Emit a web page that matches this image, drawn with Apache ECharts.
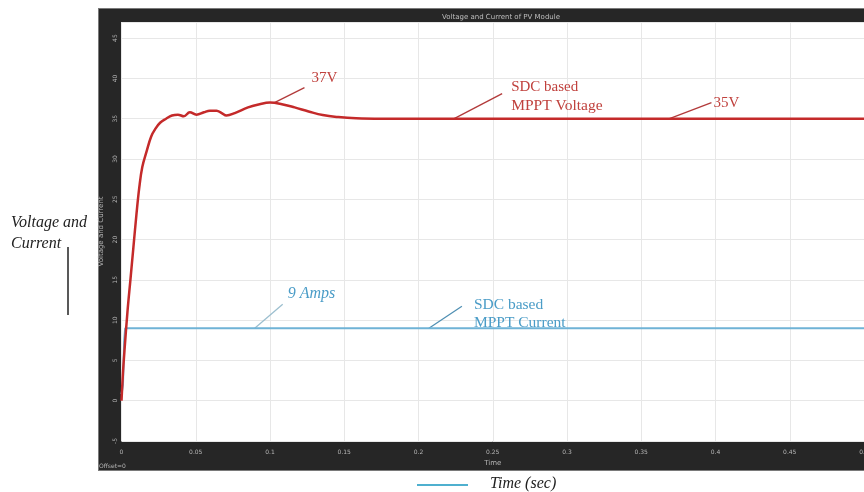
<!DOCTYPE html>
<html>
<head>
<meta charset="utf-8">
<script src="https://cdn.jsdelivr.net/npm/echarts@6/dist/echarts.min.js"></script>
<style>
  html, body { margin: 0; padding: 0; background: #ffffff; }
  #wrap { position: relative; width: 864px; height: 492px; overflow: hidden; }
  #frame { position: absolute; left: 98px; top: 8px; width: 770px; height: 463px;
           background: #262626; border: 1px solid #7a7a7a; box-sizing: border-box; }
  #chart { position: absolute; left: 0; top: 0; width: 864px; height: 492px; }
</style>
</head>
<body>
<div id="wrap">
  <div id="frame"></div>
  <div id="chart"></div>
</div>
<script>
// Scope trace: PV module voltage and current (SDC based MPPT)
const voltTime = [0, 0.001, 0.002, 0.004, 0.006, 0.008, 0.010, 0.012, 0.014, 0.017, 0.020, 0.023, 0.026, 0.030,
  0.034, 0.038, 0.042, 0.046, 0.0505, 0.0555, 0.0595, 0.064, 0.0675, 0.0707, 0.0763, 0.0852, 0.093, 0.100,
  0.108, 0.1166, 0.126, 0.1355, 0.146, 0.158, 0.175, 0.2, 0.25, 0.3, 0.35, 0.4, 0.45, 0.5];
const voltage = [0, 3.5, 6.2, 11, 15, 19, 23, 26.5, 29, 31, 32.8, 33.8, 34.5, 35.0,
  35.4, 35.5, 35.3, 35.8, 35.5, 35.8, 36.0, 36.0, 35.7, 35.4, 35.7, 36.4, 36.8, 37,
  36.8, 36.4, 35.9, 35.45, 35.2, 35.05, 35, 35, 35, 35, 35, 35, 35, 35];

const currTime = [0, 0.001, 0.0018, 0.0025, 0.01, 0.05, 0.1, 0.2, 0.3, 0.4, 0.5];
const current = [0.8, 2, 7.5, 9, 9, 9, 9, 9, 9, 9, 9];

const yTicks = [-5, 0, 5, 10, 15, 20, 25, 30, 35, 40, 45];
const xTicks = [0, 0.05, 0.1, 0.15, 0.2, 0.25, 0.3, 0.35, 0.4, 0.45, 0.5];

const pairs = (xs, ys) => xs.map((x, i) => [x, ys[i]]);

const chart = echarts.init(document.getElementById('chart'), null, { renderer: 'canvas' });

const tickText = { color: '#b5b5b5', fontSize: 6, fontFamily: 'DejaVu Sans' };

chart.setOption({
  backgroundColor: 'transparent',
  animation: false,
  title: {
    text: 'Voltage and Current of PV Module',
    left: 496, top: 9, textAlign: 'center',
    textStyle: { color: '#bdbdbd', fontSize: 7, fontWeight: 'normal', fontFamily: 'DejaVu Sans' }
  },
  grid: { left: 121.5, top: 22, right: 0, bottom: 51, show: true, backgroundColor: '#ffffff', borderWidth: 0,
          containLabel: false, outerBoundsMode: 'none' },
  xAxis: {
    type: 'value', min: 0, max: 0.5, interval: 0.05,
    name: 'Time', nameLocation: 'middle', nameGap: 19,
    nameTextStyle: { color: '#b5b5b5', fontSize: 7, fontFamily: 'DejaVu Sans' },
    axisLine: { show: false }, axisTick: { show: false },
    axisLabel: Object.assign({ margin: 8, formatter: v => xTicks.some(t => Math.abs(t - v) < 1e-9) ? String(+v.toFixed(2)) : '' }, tickText),
    splitLine: { show: true, lineStyle: { color: '#e7e7e7', width: 1 } }
  },
  yAxis: {
    type: 'value', min: -5, max: 47, interval: 5,
    name: 'Voltage and Current', nameLocation: 'middle', nameGap: 13, nameRotate: 90,
    nameTextStyle: { color: '#b5b5b5', fontSize: 7, fontFamily: 'DejaVu Sans' },
    axisLine: { show: false }, axisTick: { show: false },
    axisLabel: Object.assign({ margin: 3, rotate: 90, formatter: v => yTicks.indexOf(v) >= 0 ? String(v) : '' }, tickText),
    splitLine: { show: true, lineStyle: { color: '#e7e7e7', width: 1 } }
  },
  series: [
    {
      name: 'SDC based MPPT Voltage', type: 'line', data: pairs(voltTime, voltage),
      showSymbol: false, smooth: 0.4, lineStyle: { color: '#c42a2a', width: 2.5 }, z: 3
    },
    {
      name: 'SDC based MPPT Current', type: 'line', data: pairs(currTime, current),
      showSymbol: false, lineStyle: { color: '#6fb3d6', width: 2 }, z: 2
    }
  ]
});

// Callouts anchored to points on the traces
const red = '#c0413d', redLine = '#b23a3a', blue = '#4a9cc7';
const serif = 'Liberation Serif';
function callout(pt, dx, dy, lineColor, texts) {
  const p = chart.convertToPixel({ gridIndex: 0 }, pt);
  const els = [{
    type: 'line', silent: true,
    shape: { x1: p[0], y1: p[1], x2: p[0] + dx, y2: p[1] + dy },
    style: { stroke: lineColor, lineWidth: 1.3 }
  }];
  texts.forEach(t => els.push({
    type: 'text', silent: true, x: p[0] + dx + t.ox, y: p[1] + dy + t.oy,
    style: { text: t.text, fill: t.color, font: t.font, textVerticalAlign: 'middle' }
  }));
  return els;
}

const els = [];
els.push(...callout([0.103, 37], 30, -15, redLine,
  [{ text: '37V', ox: 7, oy: -10, color: red, font: '15px ' + serif }]));
els.push(...callout([0.224, 35], 48, -25, redLine,
  [{ text: 'SDC based', ox: 9, oy: -7, color: red, font: '15px ' + serif }, 
   { text: 'MPPT Voltage', ox: 9, oy: 12, color: red, font: '15.5px ' + serif }]));
els.push(...callout([0.369, 35], 42, -16, redLine,
  [{ text: '35V', ox: 2, oy: 0, color: red, font: '15px ' + serif }]));
els.push(...callout([0.0897, 9], 28, -24, '#9cbfcf',
  [{ text: '9 Amps', ox: 5, oy: -10, color: blue, font: 'italic 16px ' + serif }]));
els.push(...callout([0.207, 9], 33, -22, '#4f8fb3',
  [{ text: 'SDC based', ox: 12, oy: -1, color: blue, font: '15.5px ' + serif },
   { text: 'MPPT Current', ox: 12, oy: 17, color: blue, font: '15.5px ' + serif }]));

// Text outside the scope frame
els.push(
  { type: 'text', silent: true, x: 99, y: 466, style: { text: 'Offset=0', fill: '#b5b5b5', font: '6px DejaVu Sans', textVerticalAlign: 'middle' } },
  { type: 'text', silent: true, x: 11, y: 223, style: { text: 'Voltage and', fill: '#222', font: 'italic 16px ' + serif, textVerticalAlign: 'middle' } },
  { type: 'text', silent: true, x: 11, y: 244, style: { text: 'Current', fill: '#222', font: 'italic 16px ' + serif, textVerticalAlign: 'middle' } },
  { type: 'line', silent: true, shape: { x1: 68, y1: 247, x2: 68, y2: 315 }, style: { stroke: '#222', lineWidth: 1.5 } },
  { type: 'line', silent: true, shape: { x1: 417, y1: 485, x2: 468, y2: 485 }, style: { stroke: '#4fb0cf', lineWidth: 2 } },
  { type: 'text', silent: true, x: 490, y: 484, style: { text: 'Time (sec)', fill: '#222', font: 'italic 16px ' + serif, textVerticalAlign: 'middle' } }
);

chart.setOption({ graphic: { elements: els } });
</script>
</body>
</html>
